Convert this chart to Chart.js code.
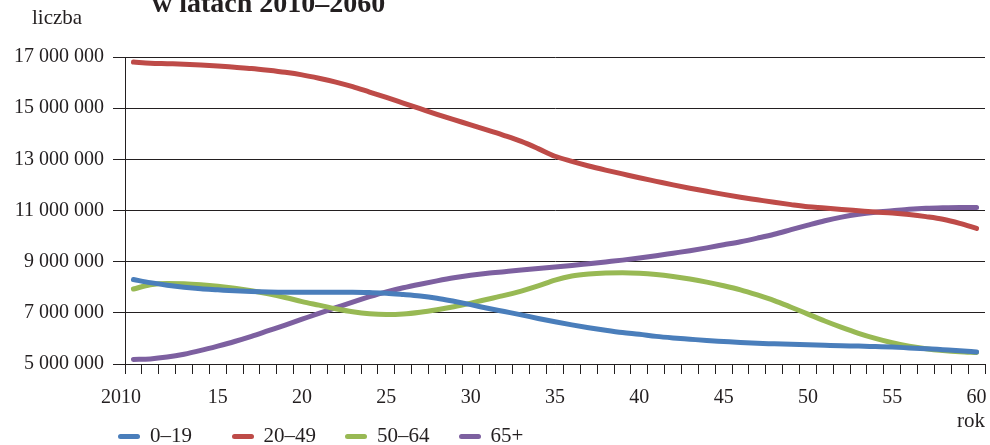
<!DOCTYPE html>
<html>
<head>
<meta charset="utf-8">
<script src="https://cdn.jsdelivr.net/npm/chart.js@4"></script>
<style>
    html, body { margin: 0; padding: 0; background: #fff; }
    #wrap { position: relative; width: 990px; height: 445px; overflow: hidden; font-family: 'Liberation Serif', 'DejaVu Serif', serif; color: #231f20; }
    #chart { position: absolute; left: 0; top: 0; }
    .txt { position: absolute; white-space: nowrap; }
    #title { left: 152px; top: -11px; font-size: 28px; line-height: 28px; font-weight: bold; }
    #ylab { left: 32px; top: 7px; font-size: 21px; line-height: 21px; }
    #xlab { right: 5px; top: 410px; font-size: 21px; line-height: 21px; }
    .leg { position: absolute; top: 425px; font-size: 21px; line-height: 21px; }
    .leg i { position: absolute; left: 0; top: 9px; width: 22px; height: 5px; border-radius: 3px; }
    .leg span { position: absolute; left: 32px; top: 0; white-space: nowrap; }
</style>
</head>
<body>
<div id="wrap">
    <canvas id="chart" width="990" height="445"></canvas>
    <div class="txt" id="title">w latach 2010–2060</div>
    <div class="txt" id="ylab">liczba</div>
    <div class="txt" id="xlab">rok</div>
    <div id="legend"></div>
</div>
<script>
// years 2010..2060
const years = ['2010', '2011', '2012', '2013', '2014', '2015', '2016', '2017', '2018', '2019',
    '2020', '2021', '2022', '2023', '2024', '2025', '2026', '2027', '2028', '2029',
    '2030', '2031', '2032', '2033', '2034', '2035', '2036', '2037', '2038', '2039',
    '2040', '2041', '2042', '2043', '2044', '2045', '2046', '2047', '2048', '2049',
    '2050', '2051', '2052', '2053', '2054', '2055', '2056', '2057', '2058', '2059', '2060'];

const seriesNames = ['0–19', '20–49', '50–64', '65+'];

// values in millions of people
const age0to19 = [8.30, 8.18, 8.08, 8.00, 7.94, 7.90, 7.86, 7.83, 7.81, 7.80,
    7.80, 7.80, 7.80, 7.80, 7.79, 7.77, 7.72, 7.66, 7.57, 7.45,
    7.32, 7.18, 7.05, 6.92, 6.78, 6.65, 6.53, 6.42, 6.32, 6.23,
    6.16, 6.08, 6.02, 5.97, 5.92, 5.88, 5.84, 5.81, 5.79, 5.77,
    5.75, 5.73, 5.71, 5.70, 5.68, 5.66, 5.63, 5.60, 5.56, 5.52, 5.47];

const age20to49 = [16.80, 16.76, 16.74, 16.72, 16.69, 16.65, 16.60, 16.55, 16.48, 16.40,
    16.30, 16.17, 16.02, 15.84, 15.63, 15.42, 15.20, 14.98, 14.76, 14.55,
    14.35, 14.14, 13.93, 13.70, 13.42, 13.12, 12.92, 12.74, 12.58, 12.43,
    12.28, 12.14, 12.00, 11.87, 11.75, 11.63, 11.52, 11.42, 11.32, 11.23,
    11.15, 11.10, 11.04, 10.99, 10.94, 10.90, 10.84, 10.76, 10.66, 10.50, 10.30];

const age50to64 = [7.93, 8.10, 8.15, 8.14, 8.10, 8.04, 7.96, 7.86, 7.74, 7.60,
    7.44, 7.30, 7.16, 7.04, 6.96, 6.93, 6.95, 7.02, 7.12, 7.24,
    7.38, 7.53, 7.68, 7.85, 8.05, 8.28, 8.44, 8.52, 8.56, 8.57,
    8.55, 8.50, 8.42, 8.32, 8.20, 8.06, 7.90, 7.70, 7.48, 7.22,
    6.95, 6.68, 6.43, 6.20, 6.00, 5.83, 5.70, 5.60, 5.53, 5.48, 5.45];

const age65plus = [5.18, 5.20, 5.27, 5.38, 5.53, 5.70, 5.88, 6.08, 6.30, 6.52,
    6.75, 6.98, 7.20, 7.42, 7.63, 7.82, 7.98, 8.12, 8.25, 8.37,
    8.47, 8.55, 8.61, 8.67, 8.73, 8.79, 8.85, 8.92, 8.99, 9.06,
    9.14, 9.23, 9.33, 9.43, 9.54, 9.66, 9.78, 9.92, 10.07, 10.25,
    10.43, 10.60, 10.74, 10.85, 10.93, 10.99, 11.05, 11.09, 11.11, 11.12, 11.12];

const colors = ['#4a7ebb', '#be4b48', '#98b954', '#7d60a0'];

const yTicks = [5, 7, 9, 11, 13, 15, 17];

// Legend (HTML)
const legend = document.getElementById('legend');
seriesNames.forEach((name, i) => {
    const d = document.createElement('div');
    d.className = 'leg';
    d.style.left = (118 + i * 113.5) + 'px';
    d.innerHTML = '<i style="background:' + colors[i] + '"></i><span>' + name + '</span>';
    legend.appendChild(d);
});

const axisColor = '#231f20';
const font = { family: "'Liberation Serif', serif", size: 20 };

const fmt = v => String(Math.round(v * 1000000)).replace(/\B(?=(\d{3})+(?!\d))/g, ' ');

const ctx = document.getElementById('chart').getContext('2d');
new Chart(ctx, {
    type: 'line',
    data: {
        labels: years,
        datasets: [age0to19, age20to49, age50to64, age65plus].map((arr, i) => ({
            label: seriesNames[i],
            data: arr,
            borderColor: colors[i],
            backgroundColor: colors[i],
            borderWidth: 5,
            pointRadius: 0,
            tension: 0.4,
            cubicInterpolationMode: 'monotone',
            borderCapStyle: 'round',
            fill: false
        }))
    },
    options: {
        responsive: false,
        animation: false,
        layout: { padding: { left: 10, right: 5, top: 57, bottom: 21 } },
        plugins: {
            legend: { display: false },
            tooltip: { enabled: false }
        },
        scales: {
            x: {
                type: 'category',
                offset: true,
                grid: {
                    display: true,
                    offset: true,
                    drawOnChartArea: true,
                    drawTicks: true,
                    // only the last boundary line shows in the plot (right frame)
                    color: c => (c.index === years.length ? axisColor : 'rgba(0,0,0,0)'),
                    tickColor: axisColor,
                    tickLength: 10,
                    lineWidth: 1
                },
                border: { display: true, color: axisColor, width: 1 },
                ticks: {
                    autoSkip: false,
                    maxRotation: 0,
                    padding: 12,
                    color: axisColor,
                    font: font,
                    callback: function (value, index) {
                        const y = Number(years[index]);
                        if (y === 2010) return '2010     ';
                        return (y % 5 === 0) ? String(y).slice(2) : '';
                    }
                },
                afterFit: scale => {
                    scale.height = 60;
                    scale.paddingLeft = 0;
                    scale.paddingRight = 0;
                }
            },
            y: {
                min: 5,
                max: 17,
                afterBuildTicks: scale => { scale.ticks = yTicks.map(v => ({ value: v })); },
                grid: { color: axisColor, tickLength: 12, lineWidth: 1 },
                border: { display: true, color: axisColor, width: 1 },
                ticks: { padding: 9, color: axisColor, font: font, callback: v => fmt(v) },
                afterFit: scale => { scale.width = 115; }
            }
        }
    }
});
</script>
</body>
</html>
